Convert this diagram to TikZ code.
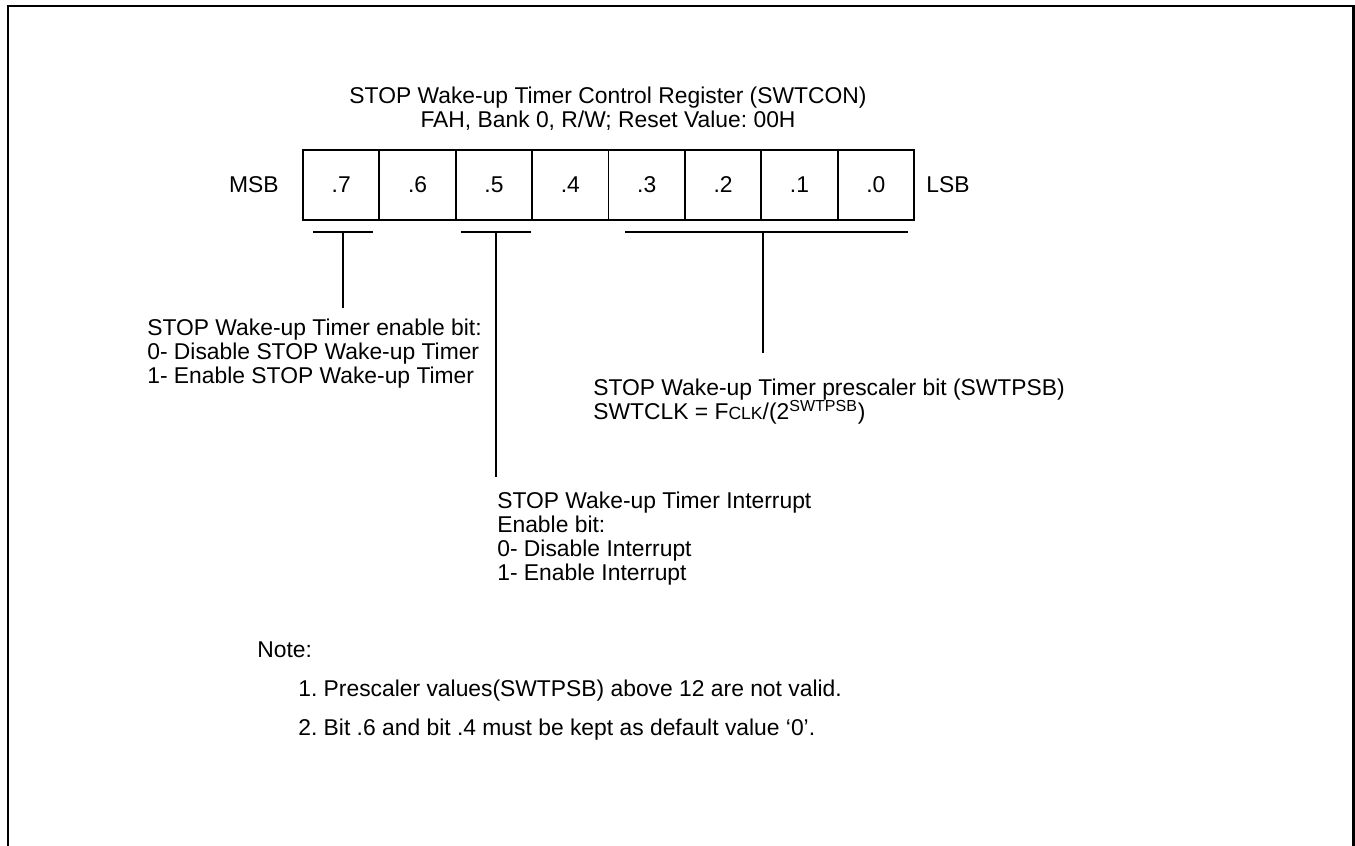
\documentclass[tikz,border=0pt]{standalone}
\usepackage{fontspec}
\setmainfont{Liberation Sans}
\usetikzlibrary{positioning}
\frenchspacing

\begin{document}
\begin{tikzpicture}[
        every node/.style={font=\fontsize{13}{13.7}\selectfont, inner sep=0pt},
        bitcell/.style={draw, line width=1.1pt, minimum width=1.5275cm, minimum height=1.4cm},
        desc/.style={anchor=north west, align=left},
        brace/.style={line width=0.9pt}
    ]
        \useasboundingbox (0,0) rectangle (27.1,-16.92);
        \draw[line width=1.7pt] (0.16,-16.92) -- (0.16,-0.12) -- (27.06,-0.12) -- (27.06,-16.92);
        \node[align=center, anchor=north] (title) at (12.16,-1.73)
            {STOP Wake-up Timer Control Register (SWTCON)\\FAH, Bank 0, R/W; Reset Value: 00H};
        \foreach \b [count=\k from 0] in {7,6,...,0}{
            \node[bitcell] (b\b) at ({6.06+1.5275*(\k+0.5)},-3.7) {.\b};
        }
        \node[left=0.46cm of b7] (msb) {MSB};
        \node[right=0.22cm of b0] (lsb) {LSB};
        % brackets under the bit fields
        \coordinate (l7) at (6.26,-4.64);
        \coordinate (r7) at (7.46,-4.64);
        \coordinate (m7) at (6.86,-4.64);
        \coordinate (e7) at (6.86,-6.16);
        \coordinate (l5) at (9.22,-4.64);
        \coordinate (r5) at (10.62,-4.64);
        \coordinate (m5) at (9.92,-4.64);
        \coordinate (e5) at (9.92,-9.54);
        \coordinate (l30) at (12.5,-4.64);
        \coordinate (r30) at (18.16,-4.64);
        \coordinate (m30) at (15.26,-4.64);
        \coordinate (e30) at (15.26,-7.06);
        \draw[brace] (l7) -- (r7);
        \draw[brace] (m7) -- (e7);
        \draw[brace] (l5) -- (r5);
        \draw[brace] (m5) -- (e5);
        \draw[brace] (l30) -- (r30);
        \draw[brace] (m30) -- (e30);
        \node[desc] (en) at (2.94,-6.37)
            {STOP Wake-up Timer enable bit:\\0- Disable STOP Wake-up Timer\\1- Enable STOP Wake-up Timer};
        \node[desc] (psb) at (11.86,-7.57)
            {STOP Wake-up Timer prescaler bit (SWTPSB)\\SWTCLK = F{\fontsize{10}{10}\selectfont CLK}/(2\textsuperscript{SWTPSB})};
        \node[desc] (ie) at (9.94,-9.83)
            {STOP Wake-up Timer Interrupt\\Enable bit:\\0- Disable Interrupt\\1- Enable Interrupt};
        \node[desc] (note) at (5.14,-12.83) {Note:};
        \node[desc] (n1) at (5.96,-13.59) {1. Prescaler values(SWTPSB) above 12 are not valid.};
        \node[desc] (n2) at (5.96,-14.37) {2. Bit .6 and bit .4 must be kept as default value `0'.};
    \end{tikzpicture}
\end{document}
